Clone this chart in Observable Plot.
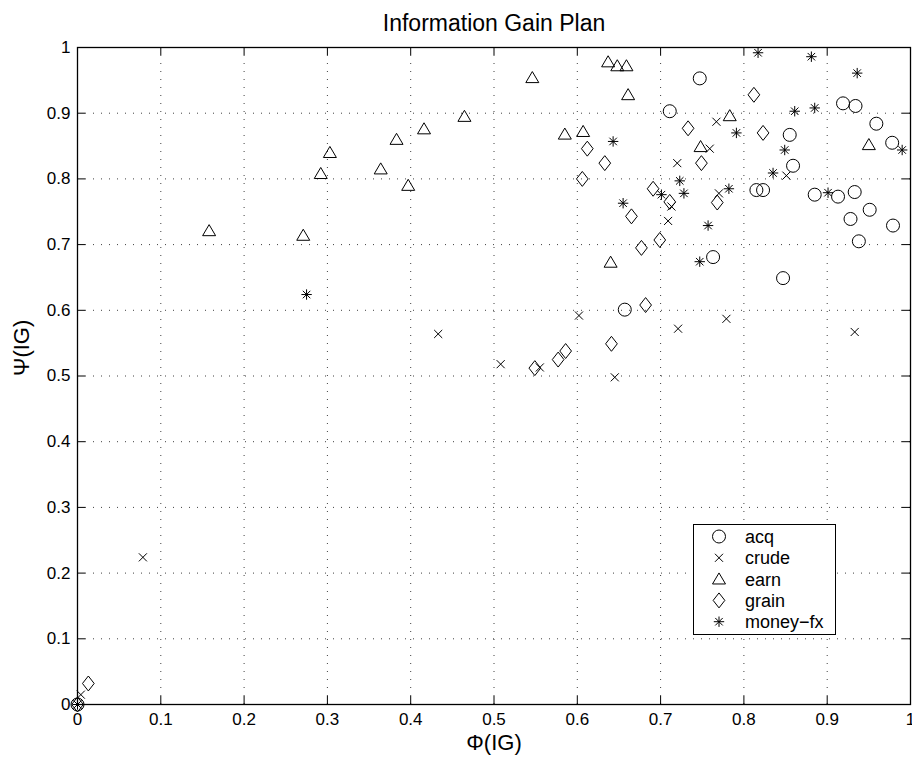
<!DOCTYPE html>
<html>
<head>
<meta charset="utf-8">
<script src="https://cdn.jsdelivr.net/npm/d3@7"></script>
<script src="https://cdn.jsdelivr.net/npm/@observablehq/plot@0.6"></script>
<style>
  body { margin: 0; background: #fff; }
  #wrap { position: relative; width: 912px; height: 758px; }
  #legend { position: absolute; left: 693px; top: 524px; width: 143px; height: 111px; border: 1.3px solid #000; background: #fff; box-sizing: border-box; }
</style>
</head>
<body>
<div id="wrap"></div>
<script>
// ---- data ----
const seriesNames = ["acq", "crude", "earn", "grain", "money−fx"];
const acq = [[0.747,0.953],[0.711,0.903],[0.919,0.915],[0.934,0.911],[0.959,0.884],[0.855,0.867],[0.978,0.855],[0.859,0.820],[0.815,0.783],[0.823,0.783],[0.885,0.776],[0.913,0.773],[0.933,0.780],[0.951,0.753],[0.928,0.739],[0.979,0.729],[0.938,0.705],[0.763,0.681],[0.847,0.649],[0.657,0.601],[0,0]];
const crude = [[0.767,0.887],[0.759,0.846],[0.720,0.824],[0.713,0.758],[0.709,0.736],[0.770,0.778],[0.851,0.805],[0.602,0.592],[0.721,0.572],[0.779,0.587],[0.933,0.567],[0.433,0.564],[0.508,0.518],[0.555,0.513],[0.645,0.498],[0.0785,0.224],[0.004,0.015],[0,0]];
const earn = [[0.546,0.954],[0.637,0.978],[0.648,0.972],[0.659,0.972],[0.661,0.928],[0.585,0.868],[0.607,0.872],[0.748,0.849],[0.783,0.896],[0.950,0.852],[0.640,0.673],[0.4645,0.895],[0.416,0.876],[0.383,0.860],[0.303,0.840],[0.292,0.808],[0.364,0.815],[0.397,0.790],[0.158,0.721],[0.271,0.714]];
const grain = [[0.733,0.877],[0.612,0.846],[0.633,0.824],[0.749,0.824],[0.606,0.800],[0.691,0.785],[0.711,0.765],[0.768,0.764],[0.665,0.743],[0.699,0.707],[0.677,0.695],[0.812,0.928],[0.823,0.870],[0.682,0.608],[0.641,0.549],[0.586,0.538],[0.577,0.525],[0.549,0.512],[0.013,0.032],[0,0]];
const moneyfx = [[0.817,0.992],[0.881,0.986],[0.936,0.961],[0.861,0.903],[0.885,0.908],[0.643,0.857],[0.791,0.870],[0.849,0.844],[0.990,0.844],[0.835,0.809],[0.723,0.797],[0.728,0.778],[0.701,0.776],[0.782,0.785],[0.901,0.779],[0.655,0.763],[0.757,0.729],[0.747,0.674],[0.275,0.624],[0,0]];
const tickValues = [0,0.1,0.2,0.3,0.4,0.5,0.6,0.7,0.8,0.9,1];
const tickLabels = ["0","0.1","0.2","0.3","0.4","0.5","0.6","0.7","0.8","0.9","1"];

// ---- MATLAB-like marker shapes ----
const R = s => Math.sqrt(s / Math.PI);
const symCircle = { draw(c, s) { const r = R(s); c.moveTo(r, 0); c.arc(0, 0, r, 0, 2 * Math.PI); } };
const symTimes = { draw(c, s) { const r = R(s) * 0.62; c.moveTo(-r, -r); c.lineTo(r, r); c.moveTo(r, -r); c.lineTo(-r, r); } };
const symTriangle = { draw(c, s) { const r = R(s); c.moveTo(0, -r * 0.95); c.lineTo(r, r * 0.75); c.lineTo(-r, r * 0.75); c.closePath(); } };
const symDiamond = { draw(c, s) { const r = R(s); c.moveTo(0, -r * 1.15); c.lineTo(r * 0.9, 0); c.lineTo(0, r * 1.15); c.lineTo(-r * 0.9, 0); c.closePath(); } };
const symStar = { draw(c, s) { const r = R(s) * 0.8, d = r * 0.72;
  c.moveTo(0, -r); c.lineTo(0, r); c.moveTo(-r, 0); c.lineTo(r, 0);
  c.moveTo(-d, -d); c.lineTo(d, d); c.moveTo(d, -d); c.lineTo(-d, d); } };
const symbols = [symCircle, symTimes, symTriangle, symDiamond, symStar];
const seriesData = [acq, crude, earn, grain, moneyfx];

const W = 912, H = 758, mL = 77, mR = 2, mT = 47, mB = 54;
const pw = W - mL - mR, ph = H - mT - mB;
const inner = tickValues.slice(1, -1);
const fmt = d => tickLabels[tickValues.indexOf(d)];
const font = "'Liberation Sans', Arial, Helvetica, sans-serif";

const dotMarks = seriesData.map((arr, i) =>
  Plot.dot(arr, { x: d => d[0], y: d => d[1], symbol: symbols[i], r: 6.5, stroke: "#000", strokeWidth: 1, fill: "none" }));

const chart = Plot.plot({
  width: W, height: H,
  marginLeft: mL, marginRight: mR, marginTop: mT, marginBottom: mB,
  style: { fontFamily: font, background: "#fff", color: "#000", overflow: "visible" },
  x: { domain: [0, 1], axis: null },
  y: { domain: [0, 1], axis: null },
  marks: [
    Plot.ruleX(inner, { x: d => d, stroke: "#000", strokeOpacity: 0.75, strokeDasharray: "1,7" }),
    Plot.ruleY(inner, { y: d => d, stroke: "#000", strokeOpacity: 0.75, strokeDasharray: "1,7" }),
    Plot.ruleX(tickValues, { x: d => d, insetTop: ph - 8, stroke: "#000" }),
    Plot.ruleX(tickValues, { x: d => d, insetBottom: ph - 8, stroke: "#000" }),
    Plot.ruleY(tickValues, { y: d => d, insetRight: pw - 8, stroke: "#000" }),
    Plot.ruleY(tickValues, { y: d => d, insetLeft: pw - 8, stroke: "#000" }),
    Plot.frame({ stroke: "#000", strokeWidth: 1.3 }),
    Plot.axisX(tickValues, { tickSize: 0, tickPadding: 8, tickFormat: fmt, fontSize: 17, label: null }),
    Plot.axisY(tickValues, { tickSize: 0, tickPadding: 7, tickFormat: fmt, fontSize: 17, label: null }),
    ...dotMarks,
    Plot.text(["Information Gain Plan"], { frameAnchor: "top", dy: -17, lineAnchor: "bottom", fontSize: 23, fill: "#000" }),
    Plot.text(["Φ(IG)"], { frameAnchor: "bottom", dy: 45, fontSize: 22, fill: "#000" }),
    Plot.text(["Ψ(IG)"], { frameAnchor: "left", dx: -56, rotate: -90, fontSize: 22, fill: "#000" })
  ]
});
const wrap = document.getElementById("wrap");
wrap.appendChild(chart);

// ---- legend (inside the axes, lower right) ----
const leg = document.createElement("div");
leg.id = "legend";
wrap.appendChild(leg);
const svg = d3.select(leg).append("svg").attr("width", 141).attr("height", 109);
seriesNames.forEach((name, i) => {
  const g = svg.append("g").attr("transform", `translate(25,${11.5 + i * 21.3})`);
  g.append("path").attr("d", d3.symbol().type(symbols[i]).size(Math.PI * 6.5 * 6.5)())
    .attr("fill", "none").attr("stroke", "#000").attr("stroke-width", 1);
  svg.append("text").attr("x", 51).attr("y", 11.5 + i * 21.3).attr("dy", "0.36em")
    .attr("font-family", font).attr("font-size", 18).text(name);
});
</script>
</body>
</html>
